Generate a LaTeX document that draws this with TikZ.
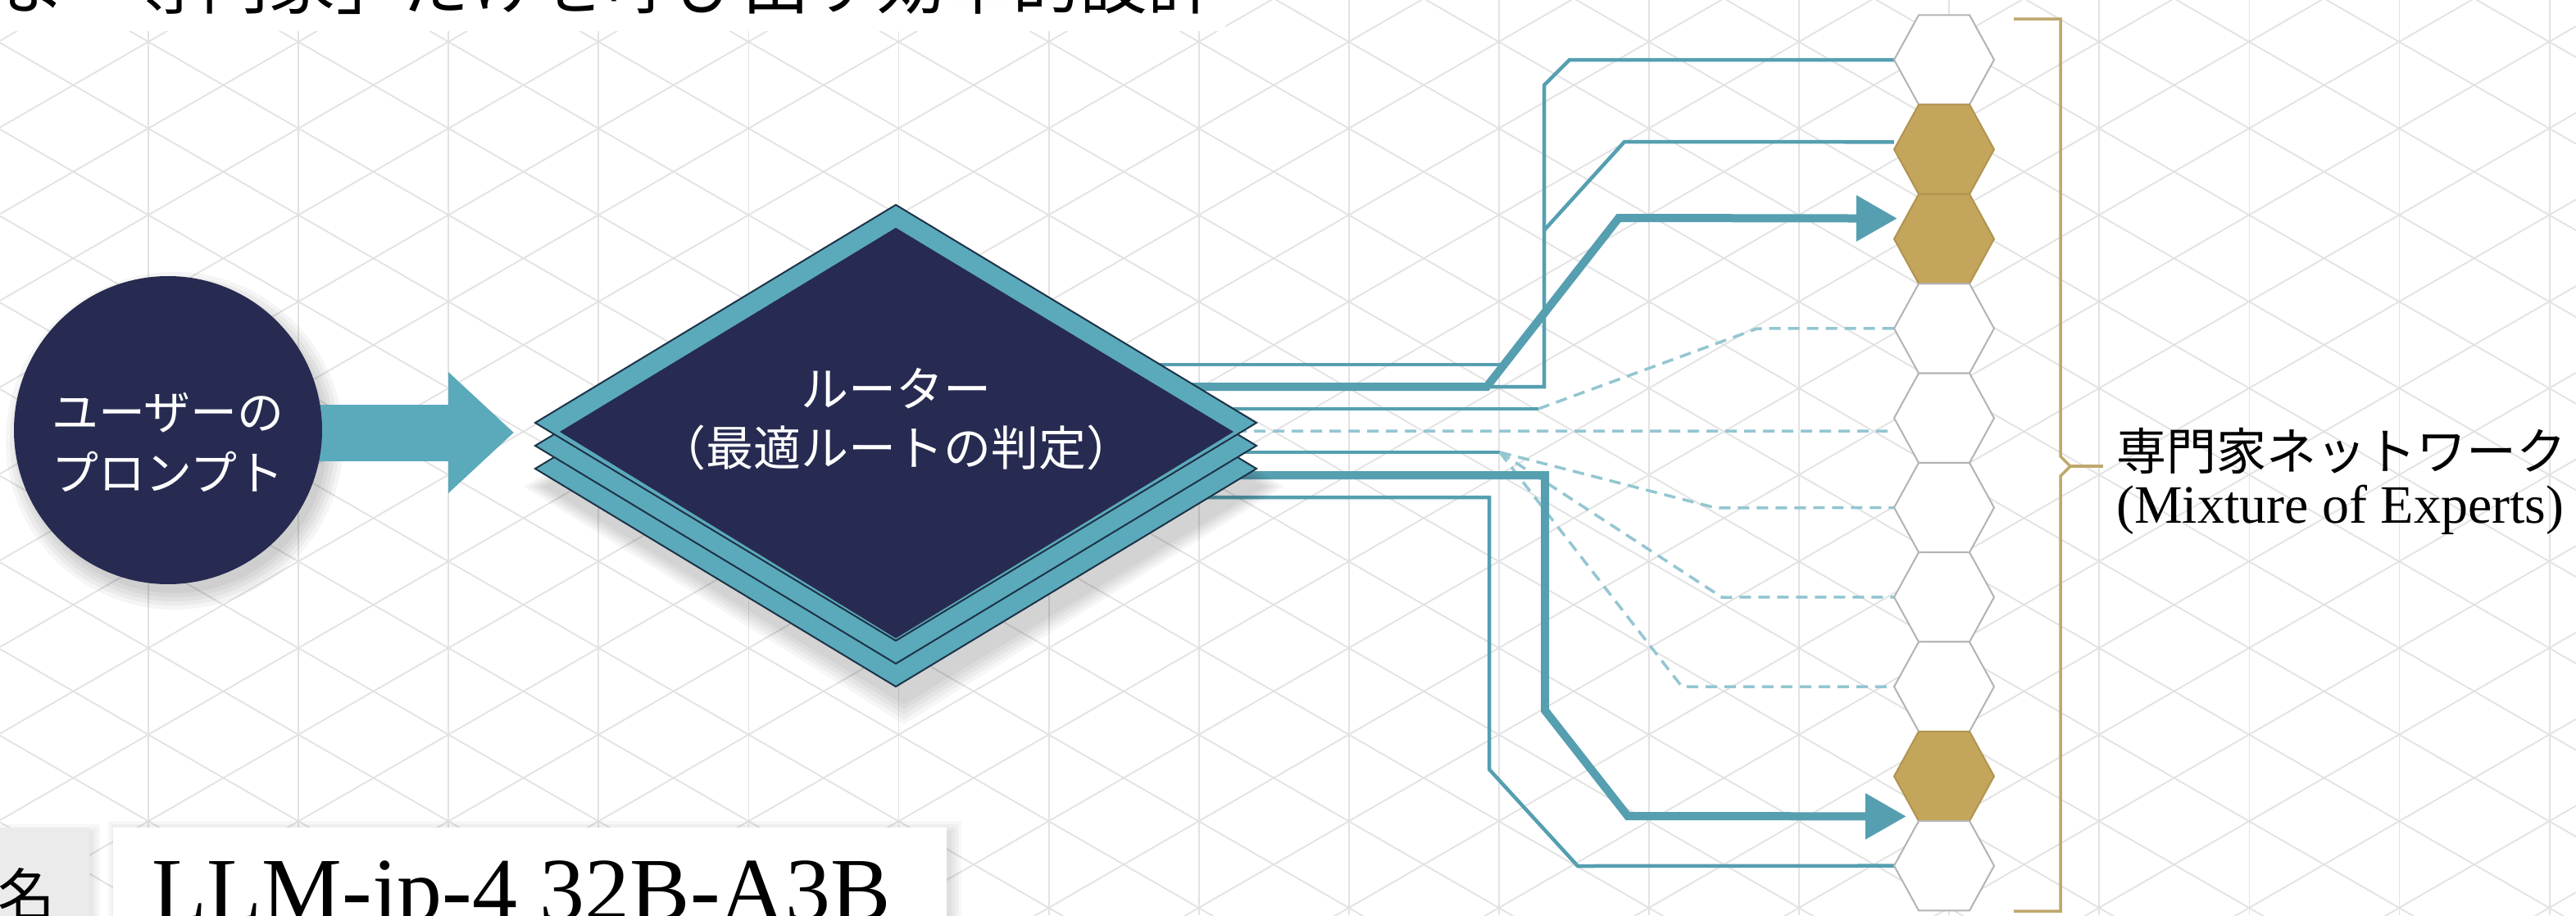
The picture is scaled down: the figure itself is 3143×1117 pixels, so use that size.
\documentclass[tikz,border=0pt]{standalone}
\usepackage{fontspec}
\setmainfont{Liberation Serif}
\newfontfamily\jp{Noto Sans CJK JP}
\usetikzlibrary{arrows.meta,calc}
\definecolor{navy}{HTML}{272B51}
\definecolor{teal1}{HTML}{5BAABB}
\definecolor{tealline}{HTML}{559FB0}
\definecolor{tealdash}{HTML}{93C6D1}
\definecolor{gold}{HTML}{C3A65B}
\definecolor{goldd}{HTML}{B09450}
\definecolor{goldline}{HTML}{BFA86C}
\definecolor{gridc}{HTML}{E2E2E2}
\definecolor{hexline}{HTML}{B3B3B3}
\definecolor{outl}{HTML}{1D3348}
\definecolor{graybox}{HTML}{EBEBEB}
\begin{document}
\begin{tikzpicture}[x=1pt,y=-1pt,
  gridline/.style={draw=gridc,line width=1.8pt},
  thinline/.style={draw=tealline,line width=4.5pt,line join=miter},
  thickline/.style={draw=tealline,line width=10pt,line join=miter},
  dashline/.style={draw=tealdash,line width=3.5pt,dash pattern=on 14pt off 9pt},
  thickarrow/.style={thickline,-{Triangle[length=50pt,width=54pt]}},
  hexanchor/.style={circle,minimum size=122pt,inner sep=0pt,draw=none},
  layer/.style={fill=teal1,draw=outl,line width=2pt,line join=miter},
  whitetext/.style={text=white,align=center,inner sep=0pt},
  hexshape/.style={line width=2pt,line join=miter},
  bracketline/.style={draw=goldline,line width=3.5pt},
]
\useasboundingbox (0,0) rectangle (3143,1117);
\begin{scope}
\clip (0,0) rectangle (3143,1117);
\fill[white] (0,0) rectangle (3143,1117);
% background grid
\foreach \k in {0,...,17} \draw[gridline] ({181+183.1*\k},0) -- ({181+183.1*\k},1117);
\foreach \m in {-18,...,28} {
  \draw[gridline] (0,{-53.5+105.7*\m}) -- (3143,{-53.5+105.7*\m+1814.6});
  \draw[gridline] (0,{155.5+105.7*\m}) -- (3143,{155.5+105.7*\m-1814.6});
}
% title (cut off at top)
\fill[white] (0,0) rectangle (1495,38);
\node[anchor=base east,inner sep=0pt,font=\jp\fontsize{82.5pt}{90pt}\selectfont] (title) at (1483,10) {ま「専門家」だけを呼び出す効率的設計};

% named anchors
\foreach \i in {1,...,10} \node[hexanchor] (h\i) at (2372,{73+109.3*(\i-1)}) {};
\coordinate (rout) at (1300,526);
\coordinate (routerW) at (654,516);
\coordinate (fan) at (1830,552);
\coordinate (bC) at (1884,281);
\coordinate (m1) at (1834,445);
\coordinate (dD) at (1877,499);
\coordinate (t3) at ($(h3.west)+(4,-25)$);
\coordinate (t9) at ($(h9.west)+(15,49)$);

% connectors
\draw[thinline] ($(rout)+(0,-81)$) -- (m1);
\draw[thinline] ($(rout)+(0,-54)$) -- (1884,472) -- (1884,104) -- (1915,73) -- (h1.west);
\draw[thinline] (bC) -- (1982,173) -- ($(h2.west)+(0,-9)$);
\draw[thickarrow] ($(rout)+(0,-54)$) -- (1814,472) -- (1975,266) -- (t3);
\draw[thinline] ($(rout)+(0,-27)$) -- (dD);
\draw[dashline] (dD) -- (2144,401) -- (h4.west);
\draw[dashline] (rout) -- ($(h5.west)+(0,16)$);
\draw[thinline] ($(rout)+(0,26)$) -- (fan);
\draw[dashline] (fan) -- (2094,620) -- (h6.west);
\draw[dashline] (fan) -- (2101,729) -- (h7.west);
\draw[dashline] (fan) -- (2052,838) -- (h8.west);
\draw[thickarrow] ($(rout)+(0,54)$) -- (1885,580) -- (1885,867) -- (1986,996) -- (t9);
\draw[thinline] ($(rout)+(0,81)$) -- (1817,607) -- (1817,939) -- (1925,1057) -- (h10.west);

% router
\foreach \s in {0,6,12,18,24}
  \fill[black,opacity=0.035] (1093-440-\s+10,594) -- (1093+10,594-266-\s) -- (1093+440+\s+10,594) -- (1093+10,594+266+\s) -- cycle;
\foreach \cy in {572,544,516}
  \draw[layer] (653,\cy) -- (1093,\cy-266) -- (1533,\cy) -- (1093,\cy+266) -- cycle;
\fill[navy] (683,527) -- (1093,278) -- (1505,527) -- (1093,779) -- cycle;
\node[whitetext,font=\jp\fontsize{58pt}{72pt}\selectfont] (router) at (1093,512) {ルーター\\（最適ルートの判定）};

% experts
\foreach \i/\fc/\dc in {1/white/hexline,2/gold/goldd,3/gold/goldd,4/white/hexline,5/white/hexline,6/white/hexline,7/white/hexline,8/white/hexline,9/gold/goldd,10/white/hexline}
  \draw[hexshape,fill=\fc,draw=\dc] ($(h\i)+(-61,0)$) -- ++(30,-54.65) -- ++(62,0) -- ++(30,54.65) -- ++(-30,54.65) -- ++(-62,0) -- cycle;

% user prompt
\foreach \s in {0,5,10,15,20} \fill[black,opacity=0.04] (213,538) circle[radius=186+\s];
\node[circle,minimum size=376pt,inner sep=0pt] (user) at (205,525) {};
\draw[draw=teal1,line width=69pt,-{Triangle[length=80pt,width=143pt]},shorten >=27pt] ($(user.east)+(-20,3)$) -- (routerW |- 0,528);
\fill[navy] (user) circle[radius=188];
\node[whitetext,font=\jp\fontsize{57pt}{74pt}\selectfont] (usertext) at (205,540) {ユーザーの\\プロンプト};

% bracket and label
\draw[bracketline] (2457,23) -- (2514,23) -- (2514,557) -- (2526,569) -- (2514,581) -- (2514,1112) -- (2457,1112);
\draw[bracketline] (2526,569) -- (2566,569);
\node[anchor=base west,inner sep=0pt,font=\jp\fontsize{61pt}{70pt}\selectfont] (moe) at (2582,573) {専門家ネットワーク};
\node[anchor=base west,inner sep=0pt,font=\fontsize{66pt}{70pt}\selectfont] (moeen) at (2582,638) {(Mixture of Experts)};

% model name boxes (cut off at bottom)
\foreach \s in {0,4,8,12} \fill[black,opacity=0.03] (138-\s+6,1010-\s+4) rectangle (1155+\s+6,1130);
\fill[white] (138,1010) rectangle (1155,1130);
\foreach \s in {0,4,8} \fill[black,opacity=0.03] (-10,1010-\s+4) rectangle (109+\s+5,1130);
\fill[graybox] (-10,1010) rectangle (109,1130);
\node[anchor=base east,inner sep=0pt,font=\jp\fontsize{70pt}{80pt}\selectfont] (modelname) at (68,1118) {モデル名};
\node[anchor=base west,inner sep=0pt,font=\fontsize{110pt}{120pt}\selectfont] (modelid) at (185,1123) {LLM-jp-4 32B-A3B};
\end{scope}
\end{tikzpicture}
\end{document}
